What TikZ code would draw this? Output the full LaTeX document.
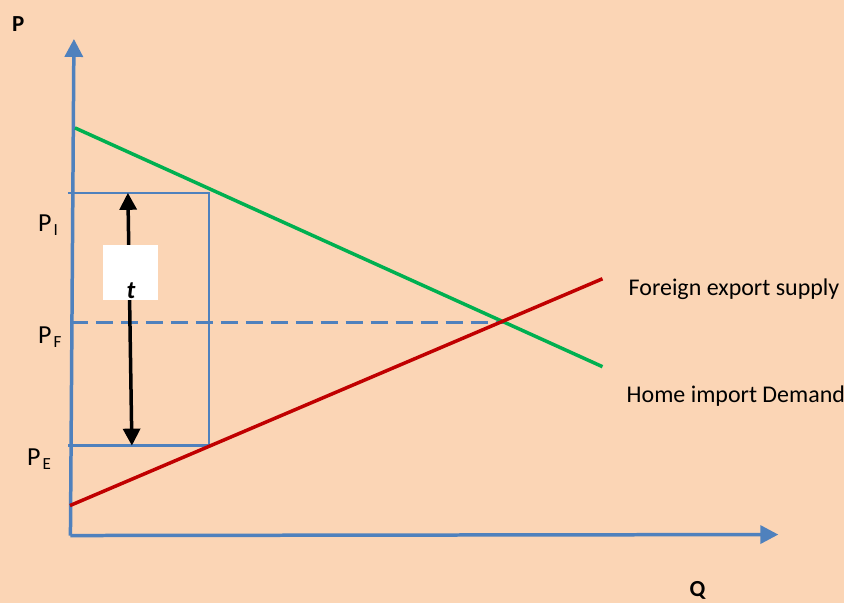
\documentclass[tikz,border=0pt]{standalone}
\usepackage{fontspec}
\setmainfont{Carlito}
\usetikzlibrary{arrows.meta}
\definecolor{peach}{HTML}{FBD5B5}
\definecolor{axisblue}{HTML}{4F81BD}
\definecolor{demandgreen}{HTML}{00B050}
\definecolor{supplyred}{HTML}{C00000}
\newcommand{\psub}[1]{P\kern2pt\raisebox{-4pt}{\fontsize{17}{17}\selectfont #1}}
\tikzset{
  axisline/.style={axisblue, line width=3.5pt, -{Triangle[length=18pt,width=18pt]}},
  boxline/.style={axisblue, line width=2.6pt},
  priceline/.style={axisblue, line width=3pt, dash pattern=on 17pt off 8pt},
  curveline/.style={line width=3.5pt},
  tariffarrow/.style={line width=3.5pt, {Triangle[length=17pt,width=17pt]}-{Triangle[length=17pt,width=17pt]}},
  axislabel/.style={font=\fontsize{23}{23}\selectfont\bfseries, inner sep=0pt, anchor=base west},
  pricelabel/.style={font=\fontsize{26}{26}\selectfont, inner sep=0pt, anchor=base west},
  curvelabel/.style={font=\fontsize{24}{24}\selectfont, inner sep=0pt, anchor=base west}
}
\begin{document}
\begin{tikzpicture}[x=1pt, y=-1pt]
  \fill[peach] (0,0) rectangle (845,604);

  % axes
  \coordinate (origin) at (70.5,536);
  \coordinate (ytop) at (74,39);
  \coordinate (xend) at (779,535);
  \draw[axisline] (origin) -- (ytop);
  \draw[axisline] (origin) -- (xend);
  \node[axislabel] (plab) at (12,32) {P};
  \node[axislabel] (qlab) at (690,597) {Q};

  % tariff box and world price
  \coordinate (boxtl) at (68,193);
  \coordinate (boxtr) at (209,193);
  \coordinate (boxbr) at (209,446);
  \coordinate (boxbl) at (68,446);
  \draw[boxline] (boxtl) -- (boxtr) -- (boxbr) -- (boxbl);
  \coordinate (pfleft) at (71,323);
  \coordinate (pfright) at (503,323);
  \draw[priceline] (pfleft) -- (pfright);

  % demand and supply
  \coordinate (dstart) at (75,128);
  \coordinate (dend) at (603,367);
  \coordinate (sstart) at (70,506);
  \coordinate (send) at (603,279);
  \draw[curveline, demandgreen] (dstart) -- (dend);
  \draw[curveline, supplyred] (sstart) -- (send);

  % tariff wedge
  \coordinate (ttop) at (128,193);
  \coordinate (tbot) at (132,446);
  \draw[tariffarrow] (ttop) -- (tbot);
  \node[fill=white, minimum width=55pt, minimum height=55pt, inner sep=0pt] (tbox) at (130.5,272.5) {};
  \node[font=\fontsize{25}{25}\selectfont\bfseries\itshape, inner sep=0pt, anchor=base] (tlab) at (131,299) {t};

  % price labels
  \node[pricelabel] (pi) at (38,232) {\psub{I}};
  \node[pricelabel] (pf) at (38,344) {\psub{F}};
  \node[pricelabel] (pe) at (27,466) {\psub{E}};

  % curve labels
  \node[curvelabel] (foreign) at (629,296) {Foreign export supply};
  \node[curvelabel] (home) at (627,403) {Home import Demand};
\end{tikzpicture}
\end{document}
